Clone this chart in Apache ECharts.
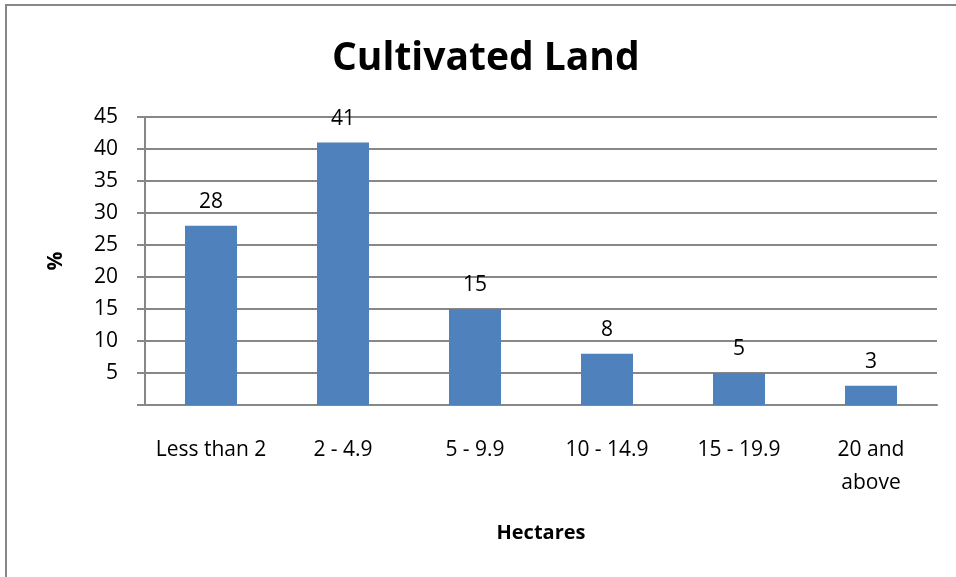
<!DOCTYPE html>
<html>
<head>
<meta charset="utf-8">
<script src="https://cdn.jsdelivr.net/npm/echarts@6/dist/echarts.min.js"></script>
<style>
  html, body { margin: 0; padding: 0; background: #fff; }
  #chart { width: 956px; height: 577px; }
</style>
</head>
<body>
<div id="chart"></div>
<script>
// data
var categories = ["Less than 2", "2 - 4.9", "5 - 9.9", "10 - 14.9", "15 - 19.9", "20 and\nabove"]
var percents = [28, 41, 15, 8, 5, 3]
var yTicks = [0, 5, 10, 15, 20, 25, 30, 35, 40, 45]

var font = "Open Sans"
var gray = "#878787"

var chart = echarts.init(document.getElementById("chart"))

chart.setOption({
    backgroundColor: "#fff",
    animation: false,
    graphic: [
        {
            // outer chart frame, cut off at right/bottom in the original
            type: "rect",
            shape: { x: 6, y: 5, width: 980, height: 600 },
            style: { fill: "none", stroke: gray, lineWidth: 2 },
            silent: true
        }
    ],
    title: {
        text: "Cultivated Land",
        left: 327,
        top: 34,
        textStyle: { fontFamily: font, fontWeight: "bold", fontSize: 39, color: "#000" }
    },
    grid: { left: 145, right: 19, top: 117, bottom: 172 },
    xAxis: {
        type: "category",
        data: categories,
        name: "Hectares",
        nameLocation: "middle",
        nameGap: 118,
        nameTextStyle: { fontFamily: font, fontWeight: "bold", fontSize: 20, color: "#000" },
        axisLine: { lineStyle: { color: gray, width: 2 } },
        axisTick: { show: false },
        axisLabel: {
            interval: 0,
            margin: 29,
            fontFamily: font, fontSize: 21, color: "#000",
            lineHeight: 33
        }
    },
    yAxis: {
        type: "value",
        min: yTicks[0],
        max: yTicks[yTicks.length - 1],
        interval: 5,
        name: "%",
        nameLocation: "middle",
        nameGap: 78,
        nameRotate: 90,
        nameTextStyle: { fontFamily: font, fontWeight: "bold", fontSize: 21, color: "#000" },
        axisLine: { show: true, lineStyle: { color: gray, width: 2 } },
        axisTick: { show: true, length: 8, lineStyle: { color: gray, width: 2 } },
        splitLine: { lineStyle: { color: gray, width: 2 } },
        axisLabel: {
            margin: 27,
            fontFamily: font, fontSize: 21, color: "#000",
            formatter: function (v) { return v === 0 ? "" : v }
        }
    },
    series: [
        {
            type: "bar",
            data: percents,
            barWidth: 52,
            itemStyle: { color: "#4F81BD" },
            label: {
                show: true,
                position: "top",
                distance: 13,
                fontFamily: font, fontSize: 21, color: "#000"
            }
        }
    ]
})
</script>
</body>
</html>
